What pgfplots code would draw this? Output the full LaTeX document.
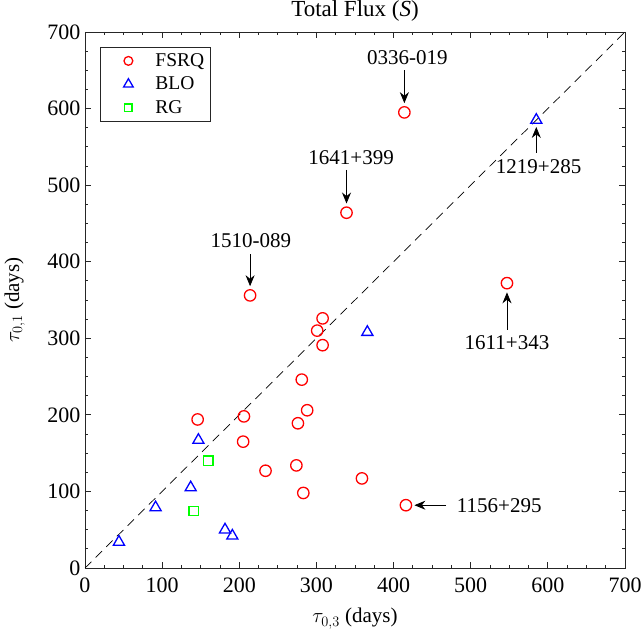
\documentclass[border=0pt]{standalone}
\usepackage{fontspec}
\setmainfont{Liberation Serif}
\usepackage{pgfplots}
\pgfplotsset{compat=1.18}
\usetikzlibrary{arrows.meta}
\begin{document}
\begin{tikzpicture}[font=\fontsize{21}{25}\selectfont]
\begin{axis}[
  scale only axis, width=540pt, height=536pt,
  xmin=0, xmax=700, ymin=0, ymax=700,
  xtick distance=100, ytick distance=100,
  minor tick num=3,
  tick align=inside,
  xtick pos=both, ytick pos=both,
  major tick length=6pt, minor tick length=3pt,
  axis line style={line width=0.8pt, black!85},
  every tick/.style={black!85, line width=0.8pt},
  /pgf/number format/assume math mode=true,
  tick label style={font=\fontsize{22}{26}\selectfont},
  xticklabel style={yshift=-6pt},
  yticklabel style={xshift=-1pt},
  title={Total Flux (\textit{S})},
  title style={at={(axis description cs:0.5,1.0168)}, anchor=base, font=\fontsize{23}{27}\selectfont},
  xlabel={$\tau_{0,3}$ (days)},
  ylabel={$\tau_{0,1}$ (days)},
  xlabel style={at={(axis description cs:0.5,-0.1026)}, anchor=base},
  ylabel style={at={(axis description cs:-0.1222,0.5)}, anchor=base},
  legend style={at={(axis description cs:0.0278,0.9715)}, anchor=north west,
    draw=black!85, line width=0.8pt, inner xsep=4pt, inner ysep=4pt, row sep=5pt,
    nodes={inner sep=2pt}, font=\fontsize{19.5}{23}\selectfont},
  legend cell align=left,
  legend image code/.code={\path[draw=none, fill=none] (0pt,-0.1pt) rectangle (49pt,0.1pt);
    \draw[#1] plot coordinates {(24pt,0pt)};},
]
% FSRQ
\addplot[only marks, mark=o, mark size=5.7pt, draw=red, line width=1.3pt,
  legend image post style={mark size=4.4pt}] coordinates {
 (414,595) (339,464) (214,356) (547,372) (416,82) (308,326) (301,310) (308,291)
 (281,246) (288,206) (276,189) (146,194) (206,198) (205,165) (234,127) (274,134)
 (283,98) (359,117)
};
\addlegendentry{FSRQ}
% BLO
\addplot[only marks, mark=triangle, mark size=6.4pt, draw=blue, line width=1.3pt,
  legend image post style={mark size=5.6pt}] coordinates {
 (585,585) (366,308) (147,167) (137,105) (91.5,79) (44,34) (181.5,50) (191,42)
};
\addlegendentry{BLO}
% RG
\addplot[only marks, mark=square, mark size=4.7pt, draw=green, line width=1.3pt,
  legend image post style={mark size=3.7pt}] coordinates {
 (160,140) (141,74.5)
};
\addlegendentry{RG}
% equality line
\addplot[black, line width=0.7pt, dash pattern=on 9pt off 6pt, forget plot] coordinates {(0,0) (700,700)};

% labelled sources
\draw[-{Stealth[length=11pt,width=9pt]}, line width=0.8pt] (axis cs:414,650) -- (axis cs:414,607);
\node at (axis cs:418,667) {0336-019};
\draw[-{Stealth[length=11pt,width=9pt]}, line width=0.8pt] (axis cs:339,520) -- (axis cs:339,476);
\node at (axis cs:345,536) {1641+399};
\draw[-{Stealth[length=11pt,width=9pt]}, line width=0.8pt] (axis cs:214,410) -- (axis cs:214,368);
\node at (axis cs:215,428) {1510-089};
\draw[-{Stealth[length=11pt,width=9pt]}, line width=0.8pt] (axis cs:585,542) -- (axis cs:585,576);
\node at (axis cs:588,524) {1219+285};
\draw[-{Stealth[length=11pt,width=9pt]}, line width=0.8pt] (axis cs:547,311) -- (axis cs:547,360);
\node at (axis cs:547,294) {1611+343};
\draw[-{Stealth[length=11pt,width=9pt]}, line width=0.8pt] (axis cs:468,82) -- (axis cs:427,82);
\node at (axis cs:537,81) {1156+295};
\end{axis}
\pgfresetboundingbox
\path ([xshift=-85pt,yshift=-69pt]current axis.south west) rectangle ([xshift=16pt,yshift=32pt]current axis.north east);
\end{tikzpicture}
\end{document}
